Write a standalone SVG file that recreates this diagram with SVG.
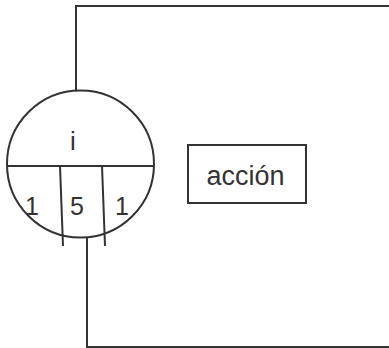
<svg xmlns="http://www.w3.org/2000/svg" width="389" height="348" viewBox="0 0 389 348">
<style>
.ln{fill:none;stroke:#333;stroke-width:2}
.sh{fill:#fff;stroke:#333;stroke-width:2}
.t{font-family:"Liberation Sans",Arial,sans-serif;font-size:25px;fill:#333;text-anchor:middle}
</style>
<rect width="389" height="348" fill="#fff"/>
<g id="connectors">
<polyline class="ln" points="76,90 76,6 389,6"/>
<polyline class="ln" points="87,238 87,347 389,347"/>
</g>
<g id="node-i">
<circle class="sh" cx="80.5" cy="164" r="73.5"/>
<line class="ln" x1="7" y1="166" x2="154" y2="166"/>
<line class="ln" x1="60" y1="166" x2="63" y2="246"/>
<line class="ln" x1="102" y1="166" x2="105" y2="246"/>
<text class="t" x="73" y="150" style="font-size:26px">i</text>
<text class="t" x="32" y="215">1</text>
<text class="t" x="77" y="215">5</text>
<text class="t" x="122" y="215">1</text>
</g>
<g id="node-accion">
<rect class="sh" x="188" y="145" width="118" height="58"/>
<text class="t" x="245.5" y="185" style="font-size:27px">acción</text>
</g>
</svg>
